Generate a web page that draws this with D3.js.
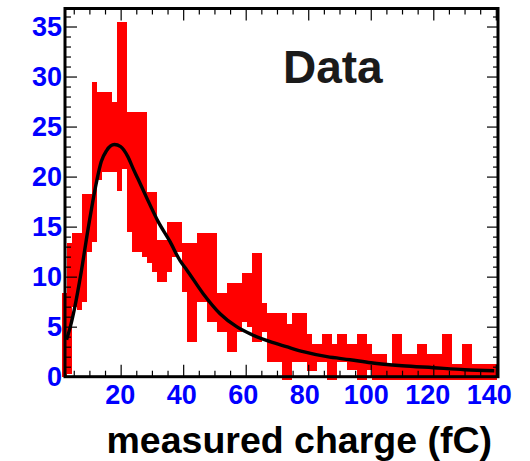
<!DOCTYPE html>
<html>
<head>
<meta charset="utf-8">
<script src="https://cdn.jsdelivr.net/npm/d3@7"></script>
<style>
	body { margin: 0; background: #fff; }
	svg { display: block; }
	.tick-label { font-family: "Liberation Sans", Arial, sans-serif; font-weight: bold; }
</style>
</head>
<body>
<div id="chart"></div>
<script>
// histogram: fixed-width bins, each drawn as its error band [low, high]
let binStart = 1.14;
let binWidth = 1.6;
let binLow = [
	0, 0.3, 7.0, 6.7, 7.5, 12.5, 13.5, 19.7, 20.5, 20.5,
	20.5, 18.6, 20.8, 14.5, 12.5, 12.5, 12.0, 11.4, 10.5, 9.5,
	9.5, 10.5, 12.0, 12.5, 8.5, 3.5, 3.5, 7.5, 7.5, 5.5,
	5.5, 4.5, 4.5, 2.5, 2.5, 4.5, 5.5, 5.0, 3.5, 3.5,
	4.5, 1.5, 1.5, 1.5, -0.3, -0.3, 1.5, 1.5, 1.5, 0.6,
	0.6, 1.5, 1.5, -0.3, -0.3, 1.5, 1.5, 0.7, 0.7, -0.3,
	-0.3, 0.7, -0.3, -0.3, -0.3, -0.3, -0.3, -0.3, -0.3, -0.3,
	-0.3, -0.3, -0.3, -0.3, -0.3, -0.3, -0.3, -0.3, -0.3, -0.3,
	-0.3, -0.3, -0.3, -0.3, -0.3, -0.3, -0.3
];
let binHigh = [
	8.4, 13.4, 14.4, 14.4, 18.3, 18.3, 29.5, 28.5, 28.5, 28.5,
	27.5, 35.5, 35.5, 26.5, 26.5, 26.5, 26.5, 18.5, 18.5, 13.7,
	13.7, 15.5, 15.5, 15.5, 13.4, 13.4, 13.4, 14.4, 14.4, 14.4,
	14.4, 8.4, 8.4, 9.4, 9.4, 9.4, 10.4, 10.4, 12.4, 12.4,
	7.4, 6.4, 6.4, 6.4, 6.4, 5.3, 6.4, 6.4, 6.4, 4.3,
	3.3, 3.3, 4.3, 4.3, 3.3, 4.3, 4.3, 3.3, 3.3, 4.3,
	4.3, 3.3, 2.3, 2.3, 2.3, 1.3, 4.3, 4.3, 2.3, 2.3,
	2.3, 3.3, 3.3, 2.3, 2.3, 2.3, 4.3, 4.3, 1.3, 1.3,
	3.3, 3.3, 1.3, 1.3, 1.3, 1.3, 1.3
];

// fitted curve
let fitX = [2.7, 4, 5.3, 7.4, 9.6, 12.3, 13.8, 15.5, 18, 20, 22.3, 24, 25.5, 28.3, 32, 35.8, 39, 41.1, 46.4, 51.8, 57.1, 62, 67.8, 73, 78.4, 86, 93.4, 100, 110, 120, 130, 139.5];
let fitY = [3.7, 5.1, 6.9, 10.5, 14.8, 19.5, 21.5, 22.6, 23.2, 23.0, 22.0, 20.8, 19.8, 17.9, 15.5, 13.5, 11.6, 10.7, 8.3, 6.3, 5.0, 4.2, 3.5, 3.0, 2.5, 2.0, 1.7, 1.4, 1.1, 0.9, 0.7, 0.6];

let xTicks = [20, 40, 60, 80, 100, 120, 140];
let yTicks = [0, 5, 10, 15, 20, 25, 30, 35];
let xDomain = [2.2, 140.7];
let yDomain = [0, 36.8];

let width = 530, height = 461;
let frame = { left: 65, top: 8.5, right: 498, bottom: 376.7 };

let svg = d3.select("#chart").append("svg")
	.attr("width", width)
	.attr("height", height);

let x = d3.scaleLinear().domain(xDomain).range([frame.left, frame.right]);
let y = d3.scaleLinear().domain(yDomain).range([frame.bottom, frame.top]);

let bins = binLow.map((lo, i) => ({
	x0: binStart + i * binWidth,
	x1: binStart + (i + 1) * binWidth,
	lo: lo,
	hi: binHigh[i]
}));

svg.append("g")
	.attr("shape-rendering", "crispEdges")
	.selectAll("rect")
	.data(bins)
	.join("rect")
	.attr("x", d => x(d.x0))
	.attr("width", d => x(d.x1) - x(d.x0) + 0.6)
	.attr("y", d => y(d.hi))
	.attr("height", d => y(d.lo) - y(d.hi))
	.attr("fill", "#ff0000");

let line = d3.line()
	.x((d, i) => x(fitX[i]))
	.y(d => y(d))
	.curve(d3.curveMonotoneX);

svg.append("path")
	.attr("d", line(fitY))
	.attr("fill", "none")
	.attr("stroke", "#000")
	.attr("stroke-width", 3.4)
	.attr("stroke-linejoin", "round");

let xMinor = d3.range(5, 141, 5).filter(v => xTicks.indexOf(v) < 0);
let yMinor = d3.range(1, 37, 1).filter(v => yTicks.indexOf(v) < 0);

function axisGroup(axis, tx, ty) {
	let g = svg.append("g")
		.attr("transform", "translate(" + tx + "," + ty + ")")
		.call(axis);
	g.select(".domain").remove();
	g.selectAll(".tick line").attr("stroke", "#000").attr("stroke-width", 1.2);
	return g;
}

// bottom
let gx = axisGroup(d3.axisBottom(x).tickValues(xTicks).tickSize(-12).tickPadding(8), 0, frame.bottom);
gx.selectAll("text")
	.attr("class", "tick-label")
	.attr("font-size", 27)
	.attr("fill", "#0000ff")
	.attr("dx", d => -d * 0.05);
axisGroup(d3.axisBottom(x).tickValues(xMinor).tickSize(-6).tickFormat(""), 0, frame.bottom);

// top
axisGroup(d3.axisTop(x).tickValues(xTicks).tickSize(-12).tickFormat(""), 0, frame.top);
axisGroup(d3.axisTop(x).tickValues(xMinor).tickSize(-6).tickFormat(""), 0, frame.top);

// left
let gy = axisGroup(d3.axisLeft(y).tickValues(yTicks).tickSize(-12).tickPadding(3), frame.left, 0);
gy.selectAll("text")
	.attr("class", "tick-label")
	.attr("font-size", 27)
	.attr("fill", "#0000ff");
axisGroup(d3.axisLeft(y).tickValues(yMinor).tickSize(-6).tickFormat(""), frame.left, 0);

// right
axisGroup(d3.axisRight(y).tickValues(yTicks).tickSize(-11).tickFormat(""), frame.right, 0);
axisGroup(d3.axisRight(y).tickValues(yMinor).tickSize(-5).tickFormat(""), frame.right, 0);

svg.append("rect")
	.attr("x", frame.left)
	.attr("y", frame.top)
	.attr("width", frame.right - frame.left)
	.attr("height", frame.bottom - frame.top)
	.attr("fill", "none")
	.attr("stroke", "#000")
	.attr("stroke-width", 3);

svg.append("text")
	.attr("x", 492)
	.attr("y", 453)
	.attr("text-anchor", "end")
	.attr("font-family", "Liberation Sans, Arial, sans-serif")
	.attr("font-weight", "bold")
	.attr("font-size", 37.5)
	.attr("fill", "#000")
	.text("measured charge (fC)");

svg.append("text")
	.attr("x", 283)
	.attr("y", 83)
	.attr("font-family", "Liberation Sans, Arial, sans-serif")
	.attr("font-weight", "bold")
	.attr("font-size", 46)
	.attr("fill", "#1a1a1a")
	.text("Data");
</script>
</body>
</html>
